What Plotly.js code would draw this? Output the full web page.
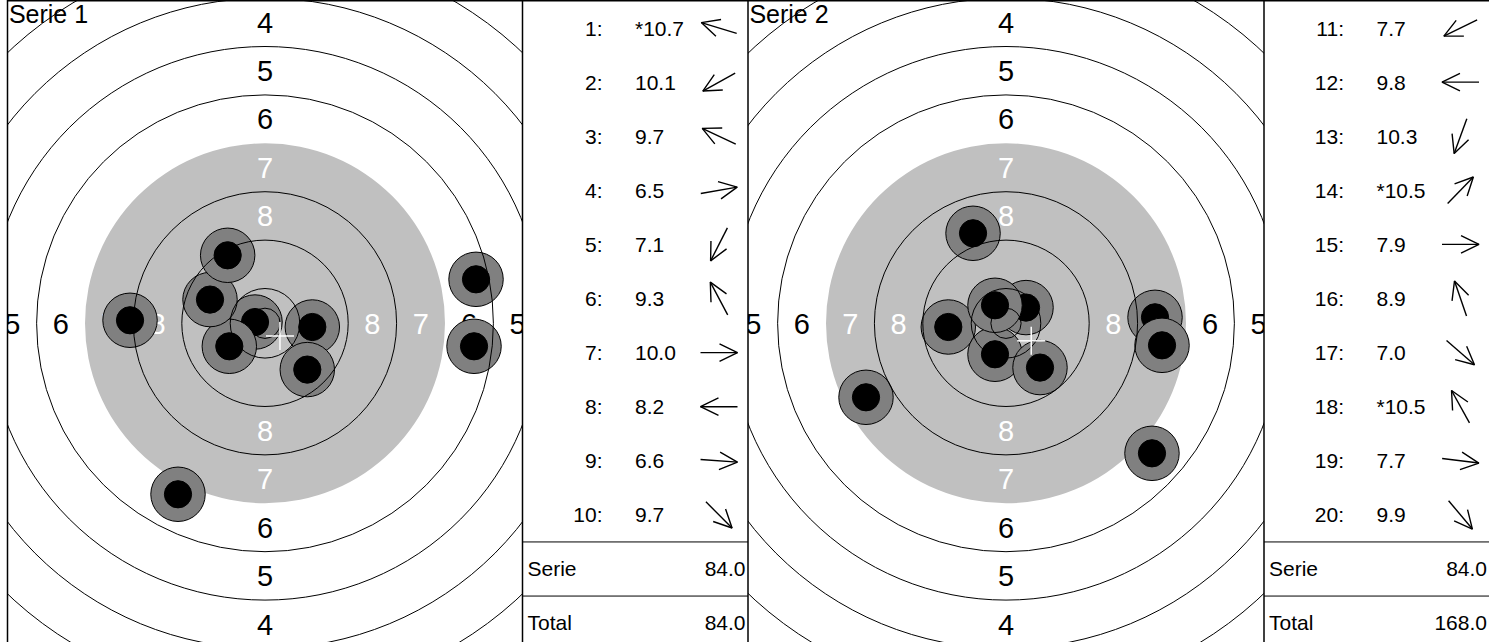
<!DOCTYPE html>
<html><head><meta charset="utf-8">
<script src="https://cdn.plot.ly/plotly-3.0.1.min.js"></script>
<style>html,body{margin:0;padding:0;background:#fff;}#chart{width:1489px;height:642px;}</style>
</head><body><div id="chart"></div>
<script>
// ---------------- DATA ----------------
const seriesNames = ['Serie 1', 'Serie 2'];

const shotNumbers1 = [1, 2, 3, 4, 5, 6, 7, 8, 9, 10];
const shotScores1  = ['*10.7', '10.1', '9.7', '6.5', '7.1', '9.3', '10.0', '8.2', '6.6', '9.7'];
const shotX1       = [-1.65, -5.90, -9.09, 34.88, -14.38, -6.17, 7.82, -22.31, 34.55, 6.99];   // mm
const shotY1       = [0.21, -3.80, 3.92, 7.27, -28.26, 11.24, -0.61, 0.50, -3.80, -7.65];     // mm
const shotDir1     = [163, 209, 155, 10, 243, 118, 0, 180, 356, 315];                          // degrees

const shotNumbers2 = [11, 12, 13, 14, 15, 16, 17, 18, 19, 20];
const shotScores2  = ['7.7', '9.8', '10.3', '*10.5', '7.9', '8.9', '7.0', '*10.5', '7.7', '9.9'];
const shotX2       = [-23.14, -9.54, -1.82, 3.31, 24.63, -5.45, 24.13, -1.82, 25.79, 5.62];
const shotY2       = [-12.23, -0.61, -5.12, 2.60, 0.99, 14.88, -21.49, 2.98, -3.64, -7.32];
const shotDir2     = [206, 180, 250, 46, 0, 109, 319, 119, 353, 310];

const serieLabel = 'Serie';
const totalLabel = 'Total';
const serieValues = ['84.0', '84.0'];
const totalValues = ['84.0', '168.0'];

// air pistol target geometry (mm)
const ringNumbers = [1, 2, 3, 4, 5, 6, 7, 8, 9, 10];
const ringRadii   = [77.75, 69.75, 61.75, 53.75, 45.75, 37.75, 29.75, 21.75, 13.75, 5.75];
const innerTenRadius = 2.5;
const labeledRings = [1, 2, 3, 4, 5, 6, 7, 8];
const aimingRingFrom = 7;
const pelletRadius = 2.25;
const markRadius = 4.5;

// ---------------- STYLE / LAYOUT ----------------
const W = 1489, H = 642;
const S = 6.05;          // px per mm
const CY = 323.3;        // target centre, px from top
const FONT = 'Liberation Sans, Arial, Helvetica, sans-serif';
const panels = [
  {tx0: 7.5, tx1: 522.5, cx: 265, tb0: 522.5, tb1: 748},
  {tx0: 748, tx1: 1264, cx: 1006, tb0: 1264, tb1: 1489}
];
const ROW0 = 28, ROWH = 54.1, NUM_X = 80, VAL_X = 112.5, ARROW_X = 196.5;
const ARROW_L = 37, HEAD_L = 20, HEAD_A = 26 * Math.PI / 180;
const TBL_FS = 21, LBL_FS = 29, TTL_FS = 25;

const traces = [];
const shapes = [];
const layout = {
  width: W, height: H, margin: {l: 0, r: 0, t: 0, b: 0},
  paper_bgcolor: '#fff', plot_bgcolor: 'rgba(0,0,0,0)', showlegend: false,
  shapes: shapes
};
function ax(domain, range, anchor) {
  return {domain: domain, range: range, anchor: anchor, visible: false, fixedrange: true,
          showgrid: false, zeroline: false};
}

const targets = [
  {xs: shotX1, ys: shotY1},
  {xs: shotX2, ys: shotY2}
];
const tables = [
  {nums: shotNumbers1, scores: shotScores1, dirs: shotDir1},
  {nums: shotNumbers2, scores: shotScores2, dirs: shotDir2}
];

panels.forEach((p, k) => {
  const xa = k ? 'x2' : 'x', ya = k ? 'y2' : 'y';
  const xn = k ? 'xaxis2' : 'xaxis', yn = k ? 'yaxis2' : 'yaxis';
  const xmin = -(p.cx - p.tx0) / S, xmax = (p.tx1 - p.cx) / S;
  const ymin = -(H - CY) / S, ymax = CY / S;
  layout[xn] = ax([p.tx0 / W, p.tx1 / W], [xmin, xmax], ya);
  layout[yn] = ax([0, 1], [ymin, ymax], xa);

  // aiming (grey) disc
  const rA = ringRadii[aimingRingFrom - 1];
  shapes.push({type: 'circle', xref: xa, yref: ya, x0: -rA, x1: rA, y0: -rA, y1: rA,
               fillcolor: '#c0c0c0', line: {width: 0}, layer: 'below'});

  // ring labels (only those whose anchor lies in view)
  const lx = [], ly = [], lt = [], lc = [];
  const dy = 0.108 * LBL_FS / S;
  labeledRings.forEach(n => {
    const d = (ringRadii[n - 1] + ringRadii[n]) / 2;
    [[0, d], [0, -d], [-d, 0], [d, 0]].forEach(q => {
      if (q[0] < xmin || q[0] > xmax || q[1] < ymin || q[1] > ymax) return;
      lx.push(q[0]); ly.push(q[1] - dy); lt.push(String(n));
      lc.push(n >= aimingRingFrom ? '#ffffff' : '#000000');
    });
  });
  traces.push({type: 'scatter', mode: 'text', x: lx, y: ly, text: lt, textposition: 'middle center',
    textfont: {family: FONT, size: LBL_FS, color: lc}, xaxis: xa, yaxis: ya,
    hoverinfo: 'skip', cliponaxis: true});

  // series title
  traces.push({type: 'scatter', mode: 'text', x: [xmin + 1.4 / S], y: [ymax - 17 / S],
    text: [seriesNames[k]], textposition: 'middle right',
    textfont: {family: FONT, size: TTL_FS, color: '#000'}, xaxis: xa, yaxis: ya,
    hoverinfo: 'skip', cliponaxis: true});

  // shots
  const t = targets[k];
  t.xs.forEach((x, i) => {
    const y = t.ys[i];
    shapes.push({type: 'circle', xref: xa, yref: ya, x0: x - markRadius, x1: x + markRadius,
      y0: y - markRadius, y1: y + markRadius, fillcolor: '#808080',
      line: {color: '#000', width: 1}, layer: 'above'});
    shapes.push({type: 'circle', xref: xa, yref: ya, x0: x - pelletRadius, x1: x + pelletRadius,
      y0: y - pelletRadius, y1: y + pelletRadius, fillcolor: '#000',
      line: {color: '#000', width: 1}, layer: 'above'});
  });

  // ring lines on top
  ringNumbers.forEach((n, i) => {
    if (n === aimingRingFrom) return;
    const r = ringRadii[i];
    shapes.push({type: 'circle', xref: xa, yref: ya, x0: -r, x1: r, y0: -r, y1: r,
      line: {color: '#000', width: 1}, fillcolor: 'rgba(0,0,0,0)', layer: 'above'});
  });
  shapes.push({type: 'circle', xref: xa, yref: ya, x0: -innerTenRadius, x1: innerTenRadius,
    y0: -innerTenRadius, y1: innerTenRadius, line: {color: '#000', width: 1},
    fillcolor: 'rgba(0,0,0,0)', layer: 'above'});

  // mean point of impact cross
  const mx = t.xs.reduce((a, b) => a + b, 0) / t.xs.length;
  const my = t.ys.reduce((a, b) => a + b, 0) / t.ys.length;
  const c = 14 / S;
  shapes.push({type: 'line', xref: xa, yref: ya, x0: mx - c, x1: mx + c, y0: my, y1: my,
    line: {color: '#fff', width: 1.5}, layer: 'above'});
  shapes.push({type: 'line', xref: xa, yref: ya, x0: mx, x1: mx, y0: my - c, y1: my + c,
    line: {color: '#fff', width: 1.5}, layer: 'above'});

  // ---------- table ----------
  const txa = k ? 'x4' : 'x3', tya = k ? 'y4' : 'y3';
  const txn = k ? 'xaxis4' : 'xaxis3', tyn = k ? 'yaxis4' : 'yaxis3';
  const tw = p.tb1 - p.tb0;
  layout[txn] = ax([p.tb0 / W, p.tb1 / W], [0, tw], tya);
  layout[tyn] = ax([0, 1], [H, 0], txa);

  const tb = tables[k];
  const rowY = tb.nums.map((_, i) => ROW0 + i * ROWH);
  const tdy = 0.11 * TBL_FS;
  traces.push({type: 'scatter', mode: 'text', x: tb.nums.map(() => NUM_X), y: rowY.map(y => y + tdy),
    text: tb.nums.map(n => n + ':'), textposition: 'middle left',
    textfont: {family: FONT, size: TBL_FS, color: '#000'}, xaxis: txa, yaxis: tya, hoverinfo: 'skip'});
  traces.push({type: 'scatter', mode: 'text', x: tb.nums.map(() => VAL_X), y: rowY.map(y => y + tdy),
    text: tb.scores, textposition: 'middle right',
    textfont: {family: FONT, size: TBL_FS, color: '#000'}, xaxis: txa, yaxis: tya, hoverinfo: 'skip'});

  const axs = [], ays = [];
  tb.dirs.forEach((deg, i) => {
    const th = deg * Math.PI / 180;
    const ux = Math.cos(th), uy = -Math.sin(th);
    const cy = rowY[i];
    const tipX = ARROW_X + ux * ARROW_L / 2, tipY = cy + uy * ARROW_L / 2;
    axs.push(ARROW_X - ux * ARROW_L / 2, tipX, null);
    ays.push(cy - uy * ARROW_L / 2, tipY, null);
    const b1 = th + Math.PI + HEAD_A, b2 = th + Math.PI - HEAD_A;
    axs.push(tipX + Math.cos(b1) * HEAD_L, tipX, tipX + Math.cos(b2) * HEAD_L, null);
    ays.push(tipY - Math.sin(b1) * HEAD_L, tipY, tipY - Math.sin(b2) * HEAD_L, null);
  });
  traces.push({type: 'scatter', mode: 'lines', x: axs, y: ays, line: {color: '#000', width: 1.4},
    xaxis: txa, yaxis: tya, hoverinfo: 'skip', connectgaps: false});

  const sepY = [ROW0 + 9.5 * ROWH, ROW0 + 10.5 * ROWH];
  const sumY = [ROW0 + 10 * ROWH - 1, ROW0 + 11 * ROWH - 1];
  traces.push({type: 'scatter', mode: 'text', x: [5, 5], y: sumY.map(y => y + tdy),
    text: [serieLabel, totalLabel], textposition: 'middle right',
    textfont: {family: FONT, size: TBL_FS, color: '#000'}, xaxis: txa, yaxis: tya, hoverinfo: 'skip'});
  traces.push({type: 'scatter', mode: 'text', x: [223, 223], y: sumY.map(y => y + tdy),
    text: [serieValues[k], totalValues[k]], textposition: 'middle left',
    textfont: {family: FONT, size: TBL_FS, color: '#000'}, xaxis: txa, yaxis: tya, hoverinfo: 'skip'});
  sepY.forEach(y => shapes.push({type: 'line', xref: 'paper', yref: tya,
    x0: p.tb0 / W, x1: p.tb1 / W, y0: y, y1: y, line: {color: '#000', width: 1}, layer: 'above'}));
});

// frame lines
[7.5, 522.5, 748, 1264].forEach(x => shapes.push({type: 'line', xref: 'paper', yref: 'paper',
  x0: x / W, x1: x / W, y0: 0, y1: 1, line: {color: '#000', width: 1.5}, layer: 'above'}));
shapes.push({type: 'line', xref: 'paper', yref: 'paper', x0: 7.5 / W, x1: 1, y0: 1 - 0.75 / H, y1: 1 - 0.75 / H,
  line: {color: '#000', width: 1.5}, layer: 'above'});

Plotly.newPlot('chart', traces, layout, {displayModeBar: false, staticPlot: true});
</script>
</body></html>
